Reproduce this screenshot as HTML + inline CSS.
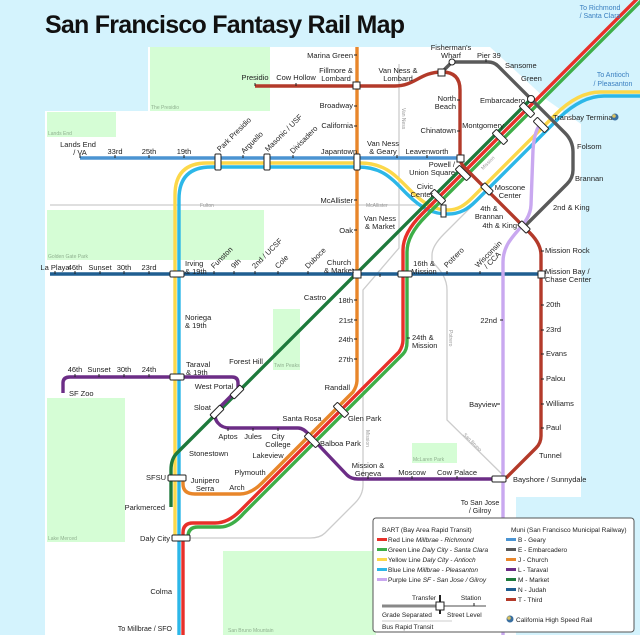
<!DOCTYPE html>
<html><head><meta charset="utf-8"><style>
html,body{margin:0;padding:0;background:#d4f3fd}
svg{display:block}
text{font-family:"Liberation Sans",sans-serif;font-size:7.5px;fill:#222}
.r{text-anchor:end}.c{text-anchor:middle}
.p{font-size:5px;fill:#8fb08f}
.g{font-size:5px;fill:#999}
.ln{fill:none;stroke-width:3.4;stroke-linecap:butt;stroke-linejoin:round}
.st{fill:none;stroke:#ccc;stroke-width:1.3}
.tk{stroke:#222;stroke-width:1}
.x{fill:#fff;stroke:#222;stroke-width:1}
.lg{font-size:6.5px}
</style></head><body>
<svg width="640" height="635" viewBox="0 0 640 635" xmlns="http://www.w3.org/2000/svg">
<rect width="640" height="635" fill="#d4f3fd"/>
<path d="M148,47 L490,47 L547,100 L581,124 L581,497 L516,497 L516,635 L45,635 L45,111 L148,111 Z" fill="#fff"/>
<rect x="150" y="47" width="120" height="64" fill="#d5fdd5"/>
<rect x="47" y="112" width="69" height="25" fill="#d5fdd5"/>
<rect x="47" y="210" width="217" height="50" fill="#d5fdd5"/>
<rect x="273" y="309" width="27" height="61" fill="#d5fdd5"/>
<rect x="47" y="398" width="78" height="144" fill="#d5fdd5"/>
<rect x="223" y="551" width="153" height="84" fill="#d5fdd5"/>
<rect x="412" y="443" width="45" height="20" fill="#d5fdd5"/>
<text class="p" x="151" y="109">The Presidio</text>
<text class="p" x="48" y="135">Lands End</text>
<text class="p" x="48" y="258">Golden Gate Park</text>
<text class="p" x="274" y="367">Twin Peaks</text>
<text class="p" x="48" y="540">Lake Merced</text>
<text class="p" x="228" y="632">San Bruno Mountain</text>
<text class="p" x="413" y="461">McLaren Park</text>
<path class="st" d="M50,205 L440,205"/>
<path class="st" d="M399,64 L399,248 L363,290 L363,485 Q363,495 355,503 L325,533 Q320,538 310,538 L188,538"/>
<path class="st" d="M556,122 L444,234 Q432,246 432,255 L432,262 Q447,275 447,290 L447,420 L506,478"/>
<text class="g" x="200" y="207">Fulton</text>
<text class="g" x="366" y="207">McAllister</text>
<text class="g" transform="translate(402,108) rotate(90)">Van Ness</text>
<text class="g" transform="translate(366,430) rotate(90)">Mission</text>
<text class="g" transform="translate(449,330) rotate(90)">Potrero</text>
<text class="g" transform="translate(463,435) rotate(45)">San Bruno</text>
<text class="g" transform="translate(483,170) rotate(-45)">Mission</text>
<path class="ln" stroke="#4b94d2" d="M80,158 L460,158"/>
<path class="ln" stroke="#fcd84a" d="M175,538 L175,195 Q175,163 207,163 L360,163 C385,163 395,175 410,190 C425,205 435,210 448,210 C458,210 465,205 472,198 L555,115 Q578,92 600,92 L640,92"/>
<path class="ln" stroke="#2cb7e8" d="M179,635 L179,199 Q179,167 211,167 L358,167 C383,167 392,179 407,194 C422,209 433,214 448,214 C460,214 468,209 476,201 L559,118 Q582,96 604,96 L640,96"/>
<path class="ln" stroke="#e8862a" d="M357,47 L357,380 Q357,386 353,392 L262,483 Q251,494 240,494 L195,494 Q183,494 183,484 L183,478"/>
<path class="ln" stroke="#e8302a" d="M640,-4 L422,214 Q403,233 403,250 L403,340 Q403,346 399,352 L240,511 Q228,523 215,523 L193,523 Q183,523 183,533 L183,635"/>
<path class="ln" stroke="#3eae48" d="M646,-4 L426,216 Q407,235 407,252 L407,342 Q407,350 403,354 L244,513 Q232,527 220,527 L198,527 Q188,527 188,537 L188,538"/>
<path class="ln" stroke="#1e7a3c" d="M530,100 L177,453 Q171,459 171,470 L171,507"/>
<path class="ln" stroke="#1f5e91" d="M50,274 L541,274"/>
<path class="ln" stroke="#b33a2a" d="M255,86 L395,86 C415,86 420,72 442,72 Q460,72 460,90 L460,158 Q460,163 465,168 L530,233 Q541,244 541,255 L541,436 Q541,443 536,448 L506,478"/>
<path class="ln" stroke="#6c2d86" d="M63,393 L63,383 Q63,377 70,377 L232,377 Q238,377 238,383 L238,389 L219,408 Q212,416 218,423 Q222,428 230,428 L298,428 Q304,428 310,436 L347,475 Q351,479 358,479 L506,479"/>
<path class="ln" stroke="#5a5a5a" d="M442,72 L452,62 L488,62 Q494,62 498,66 L565,133 Q573,141 573,152 L573,170 Q573,178 567,184 L524,227"/>
<path class="ln" stroke="#c9a8f0" d="M503,635 L503,262 C503,235 530,228 531,205 L533,150 C534,135 537,128 541,123"/>
<g class="tk">
<path d="M80,155v3M115,155v3M149,155v3M184,155v3M243,155v3M293,155v3M397,155v3M427,155v3"/>
<path d="M55,271v3M75,271v3M100,271v3M124,271v3M149,271v3M214,271v3M234,271v3M255,271v3M278,271v3M308,271v3M380,274v3M447,271v3M480,271v3"/>
<path d="M75,374v3M99,374v3M124,374v3M149,374v3M228,428v3M253,428v3M278,428v3M412,479v-3M457,479v-3M368,479v-3"/>
<path d="M354,55h3M354,106h3M354,126h3M354,200h3M354,230h3M354,300h3M354,320h3M354,339h3M354,359h3"/>
<path d="M541,251h3M541,305h3M541,330h3M541,354h3M541,379h3M541,404h3M541,428h3M457,100h3M457,131h3"/>
<path d="M500,320h3M500,404h-3M407,338h3M296,86v-3M255,86v-3M486,62v-3"/>
</g>
<g class="x">
<rect x="215" y="154" width="6" height="16" rx="1"/>
<rect x="264" y="154" width="6" height="16" rx="1"/>
<rect x="354" y="154" width="6" height="16" rx="1"/>
<rect x="170" y="271" width="14" height="6" rx="1"/>
<rect x="170" y="374" width="14" height="6" rx="1"/>
<rect x="168" y="475" width="18" height="6" rx="1"/>
<rect x="172" y="535" width="18" height="6" rx="1"/>
<rect x="353" y="270" width="8" height="8"/>
<rect x="398" y="271" width="14" height="6" rx="1"/>
<rect x="353" y="82" width="7" height="7"/>
<rect x="438" y="69" width="7" height="7"/>
<rect x="457" y="155" width="7" height="7"/>
<rect x="538" y="271" width="7" height="7"/>
<rect x="492" y="476" width="14" height="6" rx="1"/>
<g transform="rotate(45 463 173)"><rect x="455" y="170" width="16" height="6" rx="1"/></g>
<g transform="rotate(45 500 137)"><rect x="492" y="134" width="16" height="6" rx="1"/></g>
<g transform="rotate(45 527 110)"><rect x="519" y="107" width="16" height="6" rx="1"/></g>
<g transform="rotate(45 438 197)"><rect x="430" y="194" width="16" height="6" rx="1"/></g>
<g transform="rotate(45 487 189)"><rect x="481" y="186" width="12" height="6" rx="1"/></g>
<g transform="rotate(45 524 227)"><rect x="518" y="224" width="12" height="6" rx="1"/></g>
<g transform="rotate(45 541 125)"><rect x="533" y="122" width="16" height="6" rx="1"/></g>
<g transform="rotate(45 341 410)"><rect x="333" y="407" width="16" height="6" rx="1"/></g>
<g transform="rotate(45 312 440)"><rect x="304" y="437" width="16" height="6" rx="1"/></g>
<g transform="rotate(-45 237 392)"><rect x="230" y="389" width="14" height="6" rx="1"/></g>
<g transform="rotate(-45 217 412)"><rect x="210" y="409" width="14" height="6" rx="1"/></g>
<circle cx="531" cy="99" r="3.5"/><circle cx="452" cy="62" r="3"/>
<rect x="441" y="205" width="5" height="12"/>
</g>
<text x="45" y="33" style="font-size:25px;font-weight:bold;fill:#111" textLength="360">San Francisco Fantasy Rail Map</text>
<text class="c" x="600" y="10" style="fill:#3a7fc0;font-size:7px">To Richmond</text>
<text class="c" x="600" y="18" style="fill:#3a7fc0;font-size:7px">/ Santa Clara</text>
<text class="c" x="613" y="77" style="fill:#3a7fc0;font-size:7px">To Antioch</text>
<text class="c" x="613" y="86" style="fill:#3a7fc0;font-size:7px">/ Pleasanton</text>
<text class="r" x="172" y="631" style="font-size:7px">To Millbrae / SFO</text>
<text class="c" x="480" y="505" style="font-size:7px">To San Jose</text>
<text class="c" x="480" y="513" style="font-size:7px">/ Gilroy</text>
<text class="c" x="255" y="80">Presidio</text>
<text class="c" x="296" y="80">Cow Hollow</text>
<text class="c" x="336" y="73">Fillmore &amp;</text><text class="c" x="336" y="81">Lombard</text>
<text class="c" x="398" y="73">Van Ness &amp;</text><text class="c" x="398" y="81">Lombard</text>
<text class="r" x="353" y="58">Marina Green</text>
<text class="c" x="451" y="50">Fisherman's</text><text class="c" x="451" y="58">Wharf</text>
<text x="477" y="58">Pier 39</text>
<text x="505" y="68">Sansome</text>
<text x="521" y="81">Green</text>
<text class="r" x="525" y="103">Embarcadero</text>
<text class="r" x="456" y="101">North</text><text class="r" x="456" y="109">Beach</text>
<text class="r" x="456" y="133">Chinatown</text>
<text class="c" x="483" y="128">Montgomery</text>
<text class="c" x="427" y="154">Leavenworth</text>
<text class="c" x="383" y="146">Van Ness</text><text class="c" x="383" y="154">&amp; Geary</text>
<text class="c" x="339" y="154">Japantown</text>
<text class="r" x="455" y="167">Powell /</text><text class="r" x="455" y="175">Union Square</text>
<text class="r" x="433" y="189">Civic</text><text class="r" x="433" y="197">Center</text>
<text class="c" x="510" y="190">Moscone</text><text class="c" x="510" y="198">Center</text>
<text class="c" x="489" y="211">4th &amp;</text><text class="c" x="489" y="219">Brannan</text>
<text class="r" x="517" y="228">4th &amp; King</text>
<text x="553" y="120">Transbay Terminal</text>
<circle cx="615" cy="117" r="3.5" fill="#3a6fa0"/><circle cx="614" cy="116" r="1.8" fill="#d9c060"/>
<text x="577" y="149">Folsom</text>
<text x="575" y="181">Brannan</text>
<text x="553" y="210">2nd &amp; King</text>
<text x="545" y="253">Mission Rock</text>
<text x="545" y="274">Mission Bay /</text><text x="545" y="282">Chase Center</text>
<text x="546" y="307">20th</text><text x="546" y="332">23rd</text><text x="546" y="356">Evans</text>
<text x="546" y="381">Palou</text><text x="546" y="406">Williams</text><text x="546" y="430">Paul</text>
<text x="539" y="458">Tunnel</text>
<text x="513" y="482">Bayshore / Sunnydale</text>
<text class="r" x="497" y="407">Bayview</text>
<text class="r" x="497" y="323">22nd</text>
<text class="r" x="353" y="108">Broadway</text>
<text class="r" x="353" y="128">California</text>
<text class="r" x="353" y="203">McAllister</text>
<text class="r" x="353" y="233">Oak</text>
<text class="c" x="339" y="265">Church</text><text class="c" x="339" y="273">&amp; Market</text>
<text class="r" x="326" y="300">Castro</text>
<text class="r" x="353" y="303">18th</text><text class="r" x="353" y="323">21st</text>
<text class="r" x="353" y="342">24th</text><text class="r" x="353" y="362">27th</text>
<text class="r" x="350" y="390">Randall</text>
<text class="c" x="380" y="221">Van Ness</text><text class="c" x="380" y="229">&amp; Market</text>
<text class="c" x="424" y="266">16th &amp;</text><text class="c" x="424" y="274">Mission</text>
<text transform="translate(447,268) rotate(-45)">Potrero</text>
<text transform="translate(478,268) rotate(-45)">Wisconsin</text>
<text transform="translate(487,269) rotate(-45)">/ CCA</text>
<text x="412" y="340">24th &amp;</text><text x="412" y="348">Mission</text>
<text x="348" y="421">Glen Park</text>
<text x="320" y="446">Balboa Park</text>
<text class="c" x="302" y="421">Santa Rosa</text>
<text class="c" x="228" y="439">Aptos</text><text class="c" x="253" y="439">Jules</text>
<text class="c" x="278" y="439">City</text><text class="c" x="278" y="447">College</text>
<text class="c" x="268" y="458">Lakeview</text>
<text class="c" x="250" y="475">Plymouth</text>
<text class="c" x="205" y="483">Junipero</text><text class="c" x="205" y="491">Serra</text>
<text class="c" x="237" y="490">Arch</text>
<text x="189" y="456">Stonestown</text>
<text class="r" x="165" y="510">Parkmerced</text>
<text class="r" x="166" y="480">SFSU</text>
<text class="r" x="170" y="541">Daly City</text>
<text class="r" x="172" y="594">Colma</text>
<text class="r" x="211" y="410">Sloat</text>
<text class="c" x="214" y="389">West Portal</text>
<text class="c" x="246" y="364">Forest Hill</text>
<text x="186" y="367">Taraval</text><text x="186" y="375">&amp; 19th</text>
<text class="c" x="75" y="372">46th</text><text class="c" x="99" y="372">Sunset</text>
<text class="c" x="124" y="372">30th</text><text class="c" x="149" y="372">24th</text>
<text x="69" y="396">SF Zoo</text>
<text class="c" x="368" y="468">Mission &amp;</text><text class="c" x="368" y="476">Geneva</text>
<text class="c" x="412" y="475">Moscow</text><text class="c" x="457" y="475">Cow Palace</text>
<text x="185" y="320">Noriega</text><text x="185" y="328">&amp; 19th</text>
<text x="185" y="266">Irving</text><text x="185" y="274">&amp; 19th</text>
<text class="c" x="55" y="270">La Playa</text><text class="c" x="75" y="270">46th</text>
<text class="c" x="100" y="270">Sunset</text><text class="c" x="124" y="270">30th</text>
<text class="c" x="149" y="270">23rd</text>
<text transform="translate(214,269) rotate(-45)">Funston</text>
<text transform="translate(234,269) rotate(-45)">9th</text>
<text transform="translate(255,269) rotate(-45)">2nd / UCSF</text>
<text transform="translate(278,269) rotate(-45)">Cole</text>
<text transform="translate(308,269) rotate(-45)">Duboce</text>
<text class="c" x="78" y="147">Lands End</text><text class="c" x="80" y="155">/ VA</text>
<text class="c" x="115" y="154">33rd</text><text class="c" x="149" y="154">25th</text><text class="c" x="184" y="154">19th</text>
<text transform="translate(220,152) rotate(-45)">Park Presidio</text>
<text transform="translate(244,154) rotate(-45)">Arguello</text>
<text transform="translate(268,152) rotate(-45)">Masonic / USF</text>
<text transform="translate(293,154) rotate(-45)">Divisadero</text>
<!-- legend -->
<rect x="373" y="518" width="261" height="114" rx="3" fill="#fff" stroke="#555" stroke-width="1"/>
<text class="lg" x="382" y="532">BART (Bay Area Rapid Transit)</text>
<rect x="377" y="538" width="10" height="3" fill="#e8302a"/><text class="lg" x="388" y="542">Red Line  <tspan font-style="italic">Millbrae - Richmond</tspan></text>
<rect x="377" y="548" width="10" height="3" fill="#3eae48"/><text class="lg" x="388" y="552">Green Line  <tspan font-style="italic">Daly City - Santa Clara</tspan></text>
<rect x="377" y="558" width="10" height="3" fill="#fcd84a"/><text class="lg" x="388" y="562">Yellow Line  <tspan font-style="italic">Daly City - Antioch</tspan></text>
<rect x="377" y="568" width="10" height="3" fill="#2cb7e8"/><text class="lg" x="388" y="572">Blue Line  <tspan font-style="italic">Millbrae - Pleasanton</tspan></text>
<rect x="377" y="578" width="10" height="3" fill="#c9a8f0"/><text class="lg" x="388" y="582">Purple Line  <tspan font-style="italic">SF - San Jose / Gilroy</tspan></text>
<text class="lg" x="511" y="532">Muni (San Francisco Municipal Railway)</text>
<rect x="506" y="538" width="10" height="3" fill="#4b94d2"/><text class="lg" x="518" y="542">B - Geary</text>
<rect x="506" y="548" width="10" height="3" fill="#5a5a5a"/><text class="lg" x="518" y="552">E - Embarcadero</text>
<rect x="506" y="558" width="10" height="3" fill="#e8862a"/><text class="lg" x="518" y="562">J - Church</text>
<rect x="506" y="568" width="10" height="3" fill="#6c2d86"/><text class="lg" x="518" y="572">L - Taraval</text>
<rect x="506" y="578" width="10" height="3" fill="#1e7a3c"/><text class="lg" x="518" y="582">M - Market</text>
<rect x="506" y="588" width="10" height="3" fill="#1f5e91"/><text class="lg" x="518" y="592">N - Judah</text>
<rect x="506" y="598" width="10" height="3" fill="#b33a2a"/><text class="lg" x="518" y="602">T - Third</text>
<circle cx="510" cy="619" r="3.5" fill="#3a6fa0"/><circle cx="509" cy="618" r="1.8" fill="#d9c060"/>
<text class="lg" x="516" y="622">California High Speed Rail</text>
<path d="M382,606 L440,606" stroke="#888" stroke-width="3"/>
<path d="M440,606 L486,606" stroke="#888" stroke-width="1.5"/>
<path d="M440,595 L440,614" stroke="#222" stroke-width="2"/>
<rect x="436" y="602" width="8" height="8" class="x"/>
<path d="M474,606 v-3" class="tk"/>
<text class="lg c" x="424" y="600">Transfer</text>
<text class="lg c" x="471" y="600">Station</text>
<text class="lg" x="382" y="617">Grade Separated</text>
<text class="lg" x="447" y="617">Street Level</text>
<path d="M382,621 L452,621" stroke="#ccc" stroke-width="1"/>
<text class="lg" x="382" y="629">Bus Rapid Transit</text>
</svg>
</body></html>
